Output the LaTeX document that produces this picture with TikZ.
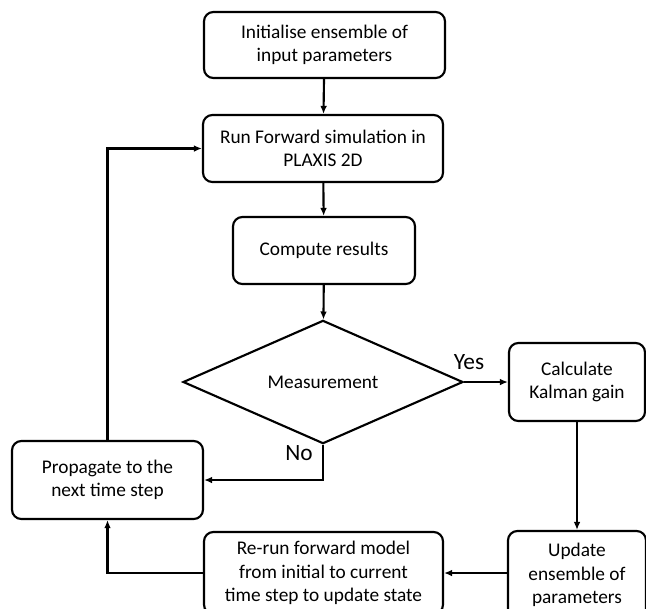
\documentclass[tikz,border=0pt]{standalone}
\usepackage{fontspec}
\setmainfont{Carlito}
\usetikzlibrary{shapes.geometric,arrows.meta}

\begin{document}
\begin{tikzpicture}[x=0.75pt,y=-0.75pt,
        procbox/.style={rectangle,draw,rounded corners=7pt,line width=1.6pt,align=center,inner sep=0pt,font=\fontsize{14.5}{17.5}\selectfont},
        decision/.style={diamond,draw,line width=1.6pt,inner sep=0pt,font=\fontsize{14.5}{17.5}\selectfont},
        arr/.style={line width=1.6pt,-{Latex[length=6pt,width=5pt]}},
        answer/.style={font=\fontsize{17.5}{20}\selectfont,inner sep=0pt}]
            \useasboundingbox (0,0) rectangle (646,608);
            \clip (0,0) rectangle (646,608);

            % main column
            \node[procbox,minimum width=180.75pt,minimum height=49.5pt] (init) at (324.5, 45) {Initialise ensemble of\\input parameters};
            \node[procbox,minimum width=180pt,minimum height=50.25pt] (run) at (323, 148.5) {Run Forward simulation in\\PLAXIS 2D};
            \node[procbox,minimum width=136.5pt,minimum height=50.25pt] (comp) at (324, 250.5) {Compute results};
            \node[decision,minimum width=210pt,minimum height=91.5pt] (meas) at (323, 382) {Measurement};

            % right column
            \node[procbox,minimum width=102pt,minimum height=58.5pt] (kalman) at (577, 382) {Calculate\\Kalman gain};
            \node[procbox,minimum width=103.5pt,minimum height=66pt] (update) at (577, 575) {Update\\ensemble of\\parameters};

            % bottom and left
            \node[procbox,minimum width=179.25pt,minimum height=61.5pt] (rerun) at (323.5, 573) {Re-run forward model\\from initial to current\\time step to update state};
            \node[procbox,minimum width=143.25pt,minimum height=58.5pt] (prop) at (107.5, 480) {Propagate to the\\next time step};

            \node[answer] (yes) at (469, 362) {Yes};
            \node[answer] (no) at (299, 453) {No};

            \draw [arr] (init) -- (run);
            \draw [arr] (run) -- (comp);
            \draw [arr] (comp) -- (meas);
            \draw [arr] (meas.east) -- (kalman.west);
            \draw [arr] (meas.south) |- (prop.east);
            \draw [arr] (kalman) -- (update);
            \draw [arr] (update.west |- rerun.east) -- (rerun.east);
            \draw [arr] (rerun.west) -| (prop.south);
            \draw [arr] (prop.north) |- (run.west);
        \end{tikzpicture}
\end{document}
